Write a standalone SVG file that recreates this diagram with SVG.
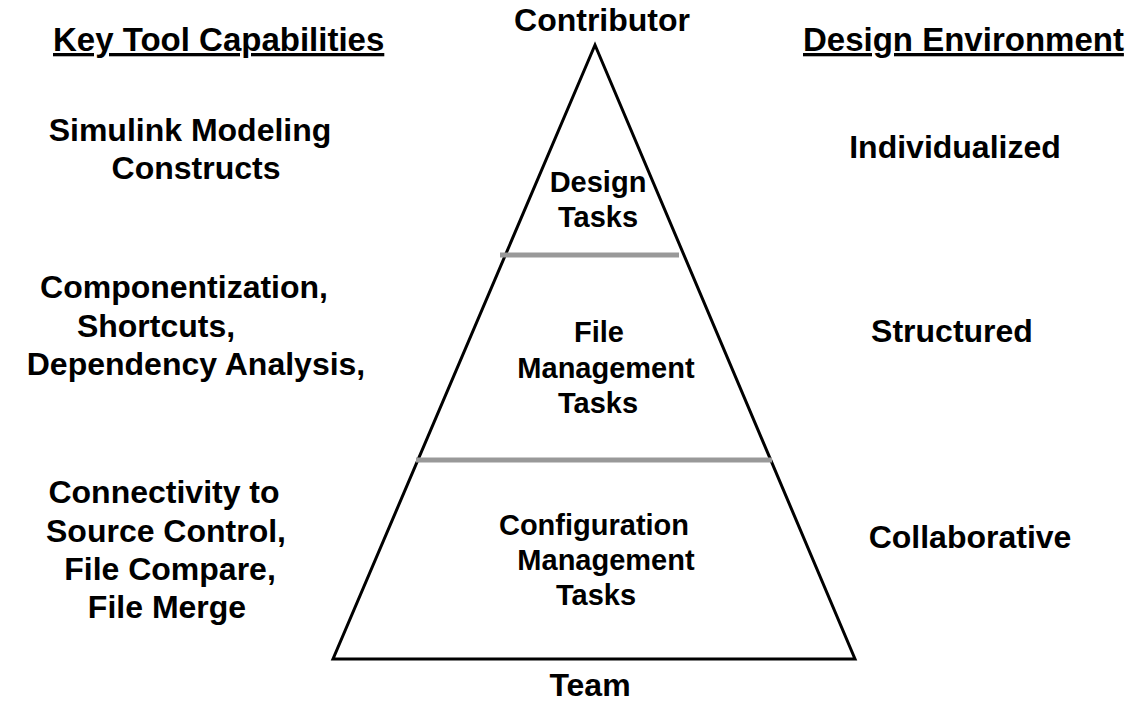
<svg xmlns="http://www.w3.org/2000/svg" width="1130" height="702" viewBox="0 0 1130 702">
  <style>
    text { font-family: "Liberation Sans", Arial, sans-serif; font-weight: bold; fill: #000; }
    .hdr { font-size: 33px; text-decoration: underline; }
    .lbl { font-size: 32px; text-anchor: middle; }
    .inner { font-size: 29px; text-anchor: middle; }
    .tri { fill: #fff; stroke: #000; stroke-width: 3; stroke-linejoin: miter; }
    .div { stroke: #999; stroke-width: 5; }
  </style>
  <rect width="1130" height="702" fill="#fff"/>

  <g id="pyramid">
    <polygon class="tri" points="595,45 855,659 333,659"/>
  </g>

  <g id="connectors">
    <line class="div" x1="500" y1="255" x2="679" y2="255"/>
    <line class="div" x1="416" y1="460" x2="772" y2="460"/>
  </g>

  <g id="header-left">
    <text class="hdr" x="53" y="51">Key Tool Capabilities</text>
  </g>
  <g id="header-right">
    <text class="hdr" x="803" y="51">Design Environment</text>
  </g>

  <g id="contributor">
    <text class="lbl" x="602" y="31">Contributor</text>
  </g>
  <g id="team">
    <text class="lbl" x="590" y="696">Team</text>
  </g>

  <g id="design-tasks">
    <text class="inner" x="598" y="192">Design</text>
    <text class="inner" x="598" y="227">Tasks</text>
  </g>
  <g id="file-management-tasks">
    <text class="inner" x="599" y="342">File</text>
    <text class="inner" x="606" y="378">Management</text>
    <text class="inner" x="598" y="413">Tasks</text>
  </g>
  <g id="configuration-management-tasks">
    <text class="inner" x="594" y="535">Configuration</text>
    <text class="inner" x="606" y="570">Management</text>
    <text class="inner" x="596" y="605">Tasks</text>
  </g>

  <g id="cap-simulink">
    <text class="lbl" x="190" y="141">Simulink Modeling</text>
    <text class="lbl" x="196" y="179">Constructs</text>
  </g>
  <g id="cap-componentization">
    <text class="lbl" x="184" y="298">Componentization,</text>
    <text class="lbl" x="156" y="337">Shortcuts,</text>
    <text class="lbl" x="196" y="375">Dependency Analysis,</text>
  </g>
  <g id="cap-connectivity">
    <text class="lbl" x="164" y="503">Connectivity to</text>
    <text class="lbl" x="166" y="542">Source Control,</text>
    <text class="lbl" x="170" y="580">File Compare,</text>
    <text class="lbl" x="167" y="618">File Merge</text>
  </g>

  <g id="env-individualized">
    <text class="lbl" x="955" y="158">Individualized</text>
  </g>
  <g id="env-structured">
    <text class="lbl" x="952" y="342">Structured</text>
  </g>
  <g id="env-collaborative">
    <text class="lbl" x="970" y="548">Collaborative</text>
  </g>
</svg>
